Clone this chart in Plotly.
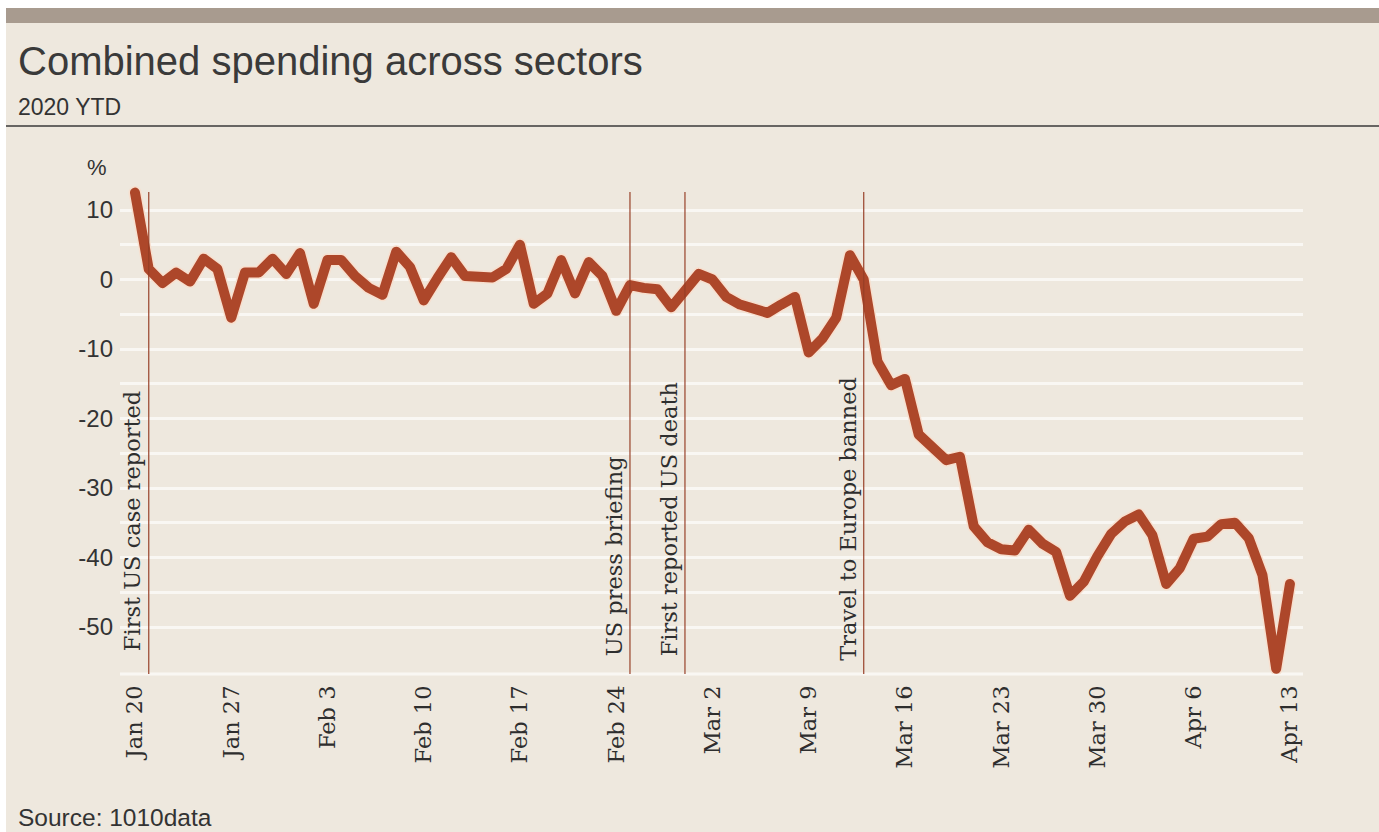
import plotly.graph_objects as go
import pandas as pd

# ---------------- data ----------------
start_date = "2020-01-20"
spending = [
    12.5, 1.5, -0.5, 1.0, -0.3, 3.0, 1.5, -5.5, 1.0, 1.0,
    3.0, 0.8, 3.8, -3.5, 2.8, 2.8, 0.5, -1.2, -2.2, 4.0,
    1.8, -3.0, 0.2, 3.2, 0.5, 0.3, 0.3, 1.5, 5.0, -3.5,
    -2.0, 2.8, -2.0, 2.5, 0.5, -4.5, -0.8, -1.2, -1.4, -4.0,
    -1.5, 0.8, 0.0, -2.5, -3.6, -4.2, -4.8, -3.6, -2.5, -10.5,
    -8.5, -5.5, 3.5, 0.0, -11.8, -15.2, -14.3, -22.3, -24.2, -26.0,
    -25.5, -35.5, -37.8, -38.8, -39.0, -36.0, -38.0, -39.2, -45.5, -43.5,
    -39.8, -36.6, -34.8, -33.8, -36.8, -43.8, -41.5, -37.3, -37.0, -35.2,
    -35.0, -37.2, -42.5, -56.0, -43.8,
]
dates = pd.date_range(start_date, periods=len(spending), freq="D")

x_tick_dates = ["2020-01-20", "2020-01-27", "2020-02-03", "2020-02-10", "2020-02-17",
                "2020-02-24", "2020-03-02", "2020-03-09", "2020-03-16", "2020-03-23",
                "2020-03-30", "2020-04-06", "2020-04-13"]
x_tick_labels = ["Jan 20", "Jan 27", "Feb 3", "Feb 10", "Feb 17", "Feb 24", "Mar 2",
                 "Mar 9", "Mar 16", "Mar 23", "Mar 30", "Apr 6", "Apr 13"]
y_tick_vals = [10, 0, -10, -20, -30, -40, -50]
y_tick_labels = ["10", "0", "-10", "-20", "-30", "-40", "-50"]
y_minor_vals = [5, -5, -15, -25, -35, -45]

event_dates = ["2020-01-21", "2020-02-25", "2020-02-29", "2020-03-13"]
event_labels = ["First US case reported", "US press briefing",
                "First reported US death", "Travel to Europe banned"]

# ---------------- layout geometry ----------------
W, H = 1379, 832
L, R, T, B = 120, 1303, 182, 674
y_lo, y_hi = -56.76, 14.03
day0 = pd.Timestamp(start_date)
x_lo = day0 + pd.Timedelta(days=-1.09)
x_hi = day0 + pd.Timedelta(days=84.95)


def pxx(px):
    return (px - L) / (R - L)


def pxy(py):
    return (B - py) / (B - T)


event_text_bottom = [-53.8, -54.5, -54.5, -55.2]
event_line_top = 12.6

LINE = "#ad472a"
BG = "#eee8de"
GRID = "#f9f7f3"
TXT = "#2e2e2e"

fig = go.Figure()
fig.add_trace(go.Scatter(x=dates, y=spending, mode="lines",
                         line=dict(color="rgba(248,222,204,0.95)", width=13),
                         hoverinfo="skip", showlegend=False))
fig.add_trace(go.Scatter(x=dates, y=spending, mode="lines",
                         line=dict(color=LINE, width=10), showlegend=False))

shapes = []
shapes.append(dict(type="rect", xref="paper", yref="paper", x0=pxx(0), x1=pxx(W),
                   y0=pxy(0), y1=pxy(8), fillcolor="white", line_width=0, layer="below"))
shapes.append(dict(type="rect", xref="paper", yref="paper", x0=pxx(6), x1=pxx(W),
                   y0=pxy(8), y1=pxy(23), fillcolor="#a89b8f", line_width=0, layer="below"))
shapes.append(dict(type="rect", xref="paper", yref="paper", x0=pxx(0), x1=pxx(6),
                   y0=pxy(0), y1=pxy(H), fillcolor="white", line_width=0, layer="below"))
shapes.append(dict(type="line", xref="paper", yref="paper", x0=pxx(6), x1=pxx(W),
                   y0=pxy(126), y1=pxy(126), line=dict(color="#3a3a3a", width=1.5)))
shapes.append(dict(type="line", xref="paper", yref="paper", x0=0, x1=1,
                   y0=0, y1=0, line=dict(color=GRID, width=3), layer="below"))
for d in event_dates:
    shapes.append(dict(type="line", xref="x", yref="y", x0=d, x1=d,
                       y0=y_lo, y1=event_line_top,
                       line=dict(color="rgba(150,62,38,0.9)", width=1.3), layer="above"))

annotations = [
    dict(text="Combined spending across sectors", xref="paper", yref="paper",
         x=pxx(16), y=pxy(61), xanchor="left", yanchor="middle", showarrow=False,
         font=dict(family="Liberation Sans", size=40, color="#3a3a3a")),
    dict(text="2020 YTD", xref="paper", yref="paper",
         x=pxx(16), y=pxy(107), xanchor="left", yanchor="middle", showarrow=False,
         font=dict(family="Liberation Sans", size=23, color="#333333")),
    dict(text="Source: 1010data", xref="paper", yref="paper",
         x=pxx(16), y=pxy(817), xanchor="left", yanchor="middle", showarrow=False,
         font=dict(family="Liberation Sans", size=24.5, color="#333333")),
    dict(text="%", xref="paper", yref="paper",
         x=pxx(97), y=pxy(168), xanchor="center", yanchor="middle", showarrow=False,
         font=dict(family="Liberation Sans", size=22, color="#333333")),
]
for d, lab, yb in zip(event_dates, event_labels, event_text_bottom):
    annotations.append(dict(text=lab, x=d, y=yb, xref="x", yref="y",
                            xanchor="right", yanchor="bottom", xshift=-1,
                            textangle=-90, showarrow=False,
                            font=dict(family="DejaVu Serif", size=22.5, color=TXT)))

fig.update_layout(
    width=W, height=H,
    margin=dict(l=L, r=W - R, t=T, b=H - B, pad=0),
    paper_bgcolor=BG, plot_bgcolor="rgba(0,0,0,0)",
    shapes=shapes, annotations=annotations,
    showlegend=False,
    xaxis=dict(type="date", range=[x_lo, x_hi], tickvals=x_tick_dates,
               ticktext=x_tick_labels, tickangle=-90, ticks="", showgrid=False,
               zeroline=False, showline=False, ticklabelstandoff=6,
               tickfont=dict(family="DejaVu Serif", size=22.5, color=TXT)),
    yaxis=dict(range=[y_lo, y_hi], tickvals=y_tick_vals, ticktext=y_tick_labels,
               ticks="", showgrid=True, gridcolor=GRID, gridwidth=3,
               zeroline=False, showline=False, ticklabelstandoff=6,
               minor=dict(tickvals=y_minor_vals, showgrid=True, gridcolor=GRID,
                          gridwidth=3),
               tickfont=dict(family="Liberation Sans", size=24, color="#333333")),
)

post = """
var s=document.createElement('style');
s.textContent='.scatterlayer .js-line{stroke-linejoin:round!important;stroke-linecap:round!important;}';
document.head.appendChild(s);
"""
fig.write_html("out.html", post_script=post)
